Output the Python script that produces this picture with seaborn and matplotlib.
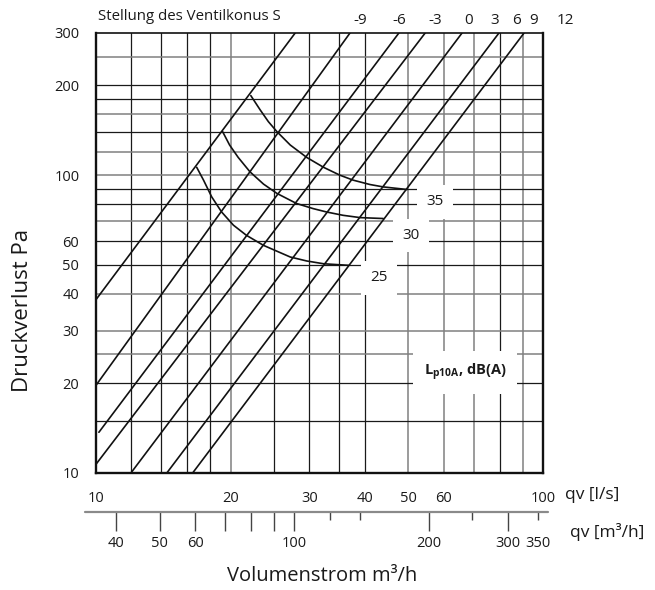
import matplotlib
matplotlib.use("Agg")
import matplotlib.pyplot as plt
import matplotlib.transforms as mtransforms
from matplotlib.ticker import NullFormatter
import pandas as pd
import seaborn as sns

# -----------------------------
# Daten
# -----------------------------
# Kennlinien Ventilkonus: Anfangs- und Endpunkt (qv l/s, Druckverlust Pa)
line_q_start = [10.0, 10.0, 10.15, 10.0, 11.97, 14.4, 16.45]
line_p_start = [38.2, 19.7, 13.7, 10.7, 10.0, 10.0, 10.0]
line_q_end = [27.9, 37.0, 47.6, 54.5, 65.9, 79.7, 90.7]
line_p_end = [300, 300, 300, 300, 300, 300, 300]

# Stellung des Ventilkonus S (Beschriftung oben)
setting_labels = ["-9", "-6", "-3", "0", "3", "6", "9", "12"]
setting_q = [39.0, 47.6, 57.3, 68.0, 78.1, 87.3, 95.1, 112.0]

# Schallpegel-Kurven Lp10A
level_labels = ["35", "30", "25"]
curve35_q = [22.2, 23.3, 24.3, 25.4, 27.2, 29.6, 32.3, 35.1, 37.6, 41.0,
             43.9, 49.6]
curve35_p = [184.9, 165.5, 151.2, 139.9, 126.2, 114.7, 106.2, 100.0, 96.2,
             93.0, 91.3, 89.5]
curve30_q = [19.2, 19.9, 20.8, 22.1, 23.7, 25.4, 28.1, 30.6, 32.8, 35.7,
             39.0, 43.9]
curve30_p = [139.9, 126.2, 114.7, 102.6, 93.3, 86.8, 80.3, 77.2, 75.2, 73.3,
             72.0, 71.5]
curve25_q = [16.8, 17.4, 18.15, 19.1, 20.3, 21.7, 23.7, 27.2, 29.6, 32.3,
             36.7]
curve25_p = [106.2, 96.2, 84.5, 75.2, 67.9, 62.8, 58.1, 53.1, 51.5, 50.4,
             49.8]
level_q = [57.3, 50.6, 43.0]
level_p = [81.3, 62.8, 45.2]

# Achsen
y_ticks = [10, 20, 30, 40, 50, 60, 100, 200, 300]
x_ticks = [10, 20, 30, 35, 40, 50, 60, 70, 80, 90, 100]
x_tick_labels = ["10", "20", "30", "", "40", "50", "60", "", "", "", "100"]
m3h_ticks = [40, 50, 60, 70, 80, 90, 100, 200, 300]
m3h_labels = ["40", "50", "60", "", "", "", "100", "200", "300"]
m3h_minor = [120, 140, 250, 350]
m3h_minor_labels = ["", "", "", "350"]

# Gitterlinien (dunkel / hell)
grid_x_dark = [12, 14, 16, 18, 25, 30, 35, 40, 80]
grid_x_light = [20, 50, 60, 70, 90]
grid_y_dark = [15, 20, 50, 60, 80, 90, 140, 180, 200]
grid_y_light = [25, 30, 40, 70, 100, 120, 160, 250]

# -----------------------------
# Tabellen für seaborn
# -----------------------------
rows = []
for i in range(len(line_q_start)):
    rows.append({"line": i, "q": line_q_start[i], "p": line_p_start[i]})
    rows.append({"line": i, "q": line_q_end[i], "p": line_p_end[i]})
df_lines = pd.DataFrame(rows)

curves = {"35": (curve35_q, curve35_p), "30": (curve30_q, curve30_p),
          "25": (curve25_q, curve25_p)}
crows = []
for name, (qs, ps) in curves.items():
    for k, (q, p) in enumerate(zip(qs, ps)):
        crows.append({"level": name, "order": k, "q": q, "p": p})
df_curves = pd.DataFrame(crows)

# -----------------------------
# Plot
# -----------------------------
sns.set_theme(style="white")
plt.rcParams["font.family"] = ["Open Sans", "DejaVu Sans"]
plt.rcParams["mathtext.fontset"] = "custom"
plt.rcParams["mathtext.rm"] = "Open Sans"
plt.rcParams["mathtext.bf"] = "Open Sans:bold"

W, H = 655, 590
fig = plt.figure(figsize=(W / 100, H / 100), dpi=100)
ax = fig.add_axes([96 / W, 1 - 473 / H, (543 - 96) / W, (473 - 33) / H])
ax.set_xscale("log")
ax.set_yscale("log")

for v in grid_x_dark:
    ax.axvline(v, color="#1a1a1a", lw=0.9, zorder=1)
for v in grid_x_light:
    ax.axvline(v, color="#808080", lw=1.1, zorder=1)
for v in grid_y_dark:
    ax.axhline(v, color="#1a1a1a", lw=0.9, zorder=1)
for v in grid_y_light:
    ax.axhline(v, color="#808080", lw=1.1, zorder=1)

sns.lineplot(data=df_lines, x="q", y="p", units="line", estimator=None,
             sort=False, color="#111111", lw=1.2, ax=ax, zorder=3)
sns.lineplot(data=df_curves, x="q", y="p", units="level", estimator=None,
             sort=False, color="#111111", lw=1.2, ax=ax, zorder=3)

ax.set_xlim(10, 100)
ax.set_ylim(10, 300)
ax.set_xlabel("")
ax.set_ylabel("")

for sp in ax.spines.values():
    sp.set_color("#111111")
    sp.set_linewidth(1.7)
    sp.set_zorder(4)
ax.spines["top"].set_linewidth(1.2)

ax.set_yticks(y_ticks, [str(v) for v in y_ticks])
ax.set_yticks([], minor=True)
ax.set_xticks(x_ticks, x_tick_labels)
ax.set_xticks([], minor=True)
ax.xaxis.set_minor_formatter(NullFormatter())
ax.yaxis.set_minor_formatter(NullFormatter())
ax.tick_params(axis="both", which="major", direction="out", length=8,
               width=1.2, color="#111111", labelsize=10.5,
               labelcolor="#1a1a1a")
ax.tick_params(axis="y", pad=4)
ax.tick_params(axis="x", pad=5)

# zweite x-Achse in m3/h
loc = -(512 - 473) / (473 - 33)
sec = ax.secondary_xaxis(loc, functions=(lambda q: q * 3.6, lambda m: m / 3.6))
sec.spines["bottom"].set_visible(False)
sec.set_xticks(m3h_ticks, m3h_labels)
sec.set_xticks(m3h_minor, m3h_minor_labels, minor=True)
sec.tick_params(axis="x", which="major", direction="out", length=14,
                width=1.0, color="#444444", labelsize=10.5, pad=3,
                labelcolor="#1a1a1a")
sec.tick_params(axis="x", which="minor", direction="out", length=6,
                width=1.0, color="#444444", labelsize=10.5, pad=11,
                labelcolor="#1a1a1a")
ax.plot([-11 / 447, 1 + 5 / 447], [loc, loc], transform=ax.transAxes,
        color="#8a8a8a", lw=1.6, clip_on=False, zorder=5)

# Beschriftung Stellung des Ventilkonus
top_tr = mtransforms.blended_transform_factory(ax.transData, ax.transAxes)
for lab, q in zip(setting_labels, setting_q):
    ax.text(q, 1 + 12.5 / 440, lab, transform=top_tr, ha="center",
            va="center", fontsize=11, color="#1a1a1a", clip_on=False)
fig.text(98 / W, 1 - 16 / H, "Stellung des Ventilkonus S", ha="left",
         va="center", fontsize=10.8, color="#1a1a1a")

# Schallpegel
for lab, q, p in zip(level_labels, level_q, level_p):
    ax.text(q, p, lab, ha="center", va="center", fontsize=11,
            color="#1a1a1a", zorder=6,
            bbox=dict(boxstyle="square,pad=0.6", fc="white", ec="none"))
ax.text(66.9, 21.8, r"$\mathbf{L_{p10A}}$, dB(A)", ha="center",
        va="center", fontsize=10.5, fontweight="bold", color="#1a1a1a",
        zorder=6, bbox=dict(boxstyle="square,pad=0.75", fc="white", ec="none"))

# Achsentitel
fig.text(565 / W, 1 - 495 / H, "qv [l/s]", ha="left", va="center",
         fontsize=12.5, color="#1a1a1a")
fig.text(570 / W, 1 - 532 / H, "qv [m³/h]", ha="left", va="center",
         fontsize=12.5, color="#1a1a1a")
fig.text(322 / W, 1 - 576 / H, "Volumenstrom m³/h", ha="center",
         va="center", fontsize=14.5, color="#1a1a1a")
fig.text(23 / W, 1 - 310 / H, "Druckverlust Pa", ha="center", va="center",
         rotation=90, fontsize=16, color="#1a1a1a")

fig.savefig("out.png", dpi=100)
